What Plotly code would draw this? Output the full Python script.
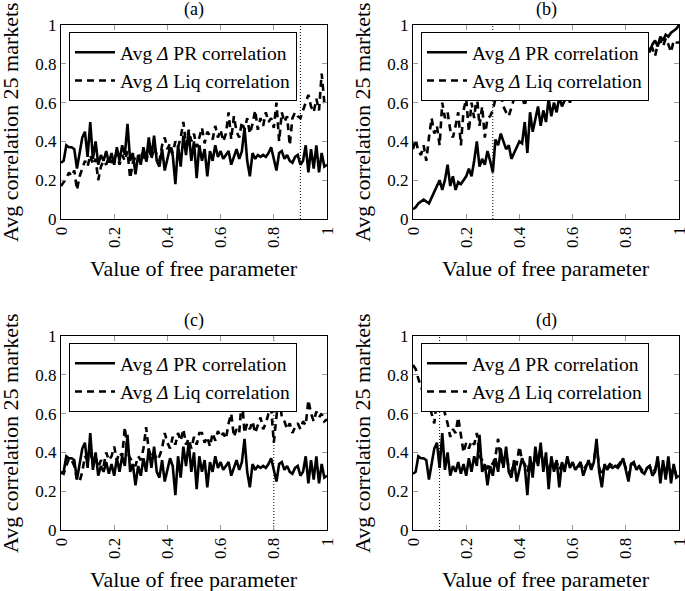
import plotly.graph_objects as go

# ---- data -------------------------------------------------------------
x_param = [round(i * 0.01, 2) for i in range(101)]

# Avg Δ PR correlation (panels a, c, d share the same realisation)
pr_acd = [0.29, 0.30, 0.38, 0.37, 0.37, 0.36, 0.26, 0.35, 0.42, 0.45,
          0.32, 0.50, 0.31, 0.40, 0.28, 0.33, 0.30, 0.35, 0.29, 0.34,
          0.28, 0.37, 0.30, 0.38, 0.33, 0.49, 0.30, 0.34, 0.23, 0.33,
          0.28, 0.37, 0.30, 0.42, 0.32, 0.43, 0.30, 0.27, 0.36, 0.25,
          0.31, 0.37, 0.33, 0.18, 0.38, 0.27, 0.43, 0.33, 0.45, 0.30,
          0.40, 0.21, 0.38, 0.30, 0.36, 0.22, 0.35, 0.30, 0.38, 0.32,
          0.35, 0.31, 0.33, 0.35, 0.28, 0.32, 0.36, 0.31, 0.35, 0.47,
          0.30, 0.22, 0.34, 0.31, 0.33, 0.32, 0.33, 0.32, 0.34, 0.37,
          0.31, 0.25, 0.34, 0.35, 0.31, 0.33, 0.30, 0.29, 0.32, 0.33,
          0.28, 0.30, 0.38, 0.24, 0.36, 0.26, 0.38, 0.24, 0.34, 0.27,
          0.28]

pr_b = [0.05, 0.06, 0.08, 0.09, 0.10, 0.09, 0.08, 0.11, 0.14, 0.17,
        0.20, 0.15, 0.20, 0.28, 0.17, 0.22, 0.15, 0.19, 0.18, 0.20,
        0.22, 0.26, 0.22, 0.30, 0.40, 0.27, 0.31, 0.28, 0.35, 0.30,
        0.24, 0.41, 0.38, 0.44, 0.40, 0.36, 0.38, 0.31, 0.34, 0.37,
        0.40, 0.39, 0.50, 0.34, 0.55, 0.45, 0.52, 0.58, 0.48, 0.56,
        0.50, 0.62, 0.53, 0.60, 0.55, 0.63, 0.58, 0.61, 0.66, 0.60,
        0.65, 0.62, 0.68, 0.64, 0.70, 0.66, 0.72, 0.67, 0.73, 0.70,
        0.75, 0.73, 0.63, 0.74, 0.79, 0.76, 0.80, 0.78, 0.82, 0.79,
        0.83, 0.80, 0.84, 0.82, 0.86, 0.83, 0.87, 0.85, 0.88, 0.86,
        0.90, 0.92, 0.89, 0.94, 0.92, 0.95, 0.94, 0.96, 0.97, 0.98,
        1.00]

# Avg Δ Liq correlation
liq_a = [0.17, 0.19, 0.21, 0.24, 0.22, 0.25, 0.15, 0.22, 0.26, 0.30,
         0.27, 0.33, 0.28, 0.31, 0.20, 0.27, 0.30, 0.28, 0.32, 0.29,
         0.31, 0.34, 0.28, 0.33, 0.30, 0.35, 0.21, 0.29, 0.32, 0.30,
         0.35, 0.33, 0.29, 0.36, 0.31, 0.37, 0.33, 0.30, 0.38, 0.42,
         0.36, 0.39, 0.34, 0.40, 0.37, 0.42, 0.50, 0.38, 0.46, 0.40,
         0.44, 0.37, 0.42, 0.47, 0.39, 0.45, 0.43, 0.41, 0.48, 0.42,
         0.46, 0.40, 0.44, 0.55, 0.41, 0.53, 0.45, 0.42, 0.50, 0.46,
         0.52, 0.44, 0.49, 0.56, 0.46, 0.52, 0.48, 0.55, 0.50, 0.52,
         0.47, 0.60, 0.40, 0.55, 0.50, 0.53, 0.38, 0.52, 0.55, 0.53,
         0.52, 0.56, 0.60, 0.64, 0.58, 0.55, 0.62, 0.56, 0.75, 0.60,
         0.58]

liq_b = [0.36, 0.41, 0.35, 0.33, 0.38, 0.30, 0.42, 0.52, 0.44, 0.48,
         0.38, 0.60, 0.52, 0.55, 0.46, 0.42, 0.48, 0.55, 0.38, 0.56,
         0.62, 0.45, 0.60, 0.52, 0.64, 0.48, 0.58, 0.42, 0.52, 0.53,
         0.56, 0.62, 0.70, 0.65, 0.58, 0.55, 0.53, 0.58, 0.62, 0.66,
         0.70, 0.64, 0.58, 0.66, 0.62, 0.70, 0.68, 0.72, 0.66, 0.70,
         0.74, 0.68, 0.72, 0.70, 0.76, 0.69, 0.74, 0.71, 0.75, 0.68,
         0.72, 0.70, 0.76, 0.72, 0.78, 0.70, 0.75, 0.74, 0.80, 0.72,
         0.78, 0.76, 0.74, 0.78, 0.80, 0.80, 0.82, 0.79, 0.84, 0.81,
         0.85, 0.82, 0.86, 0.83, 0.87, 0.85, 0.88, 0.86, 0.89, 0.88,
         0.88, 0.84, 0.90, 0.92, 0.89, 0.93, 0.90, 0.86, 0.92, 0.91,
         0.91]

liq_c = [0.30, 0.29, 0.33, 0.37, 0.36, 0.33, 0.26, 0.25, 0.30, 0.38,
         0.36, 0.40, 0.34, 0.38, 0.32, 0.36, 0.33, 0.40, 0.36, 0.38,
         0.43, 0.36, 0.40, 0.38, 0.53, 0.40, 0.37, 0.35, 0.33, 0.38,
         0.36, 0.42, 0.53, 0.41, 0.38, 0.40, 0.36, 0.38, 0.42, 0.50,
         0.45, 0.42, 0.48, 0.44, 0.50, 0.46, 0.52, 0.44, 0.47, 0.42,
         0.48, 0.44, 0.50, 0.50, 0.45, 0.48, 0.43, 0.50, 0.46, 0.51,
         0.48, 0.50, 0.47, 0.55, 0.60, 0.48, 0.52, 0.50, 0.68, 0.50,
         0.55, 0.52, 0.56, 0.50, 0.54, 0.58, 0.52, 0.55, 0.60, 0.63,
         0.45, 0.60, 0.72, 0.58, 0.56, 0.52, 0.55, 0.50, 0.53, 0.55,
         0.52, 0.56, 0.54, 0.67, 0.60, 0.56, 0.61, 0.58, 0.60, 0.56,
         0.57]

liq_d = [0.85, 0.83, 0.78, 0.74, 0.70, 0.68, 0.66, 0.60, 0.55, 0.68,
         0.66, 0.68, 0.60, 0.55, 0.48, 0.52, 0.50, 0.58, 0.48, 0.40,
         0.45, 0.42, 0.46, 0.44, 0.50, 0.38, 0.36, 0.33, 0.32, 0.35,
         0.34, 0.38, 0.47, 0.36, 0.34, 0.40, 0.32, 0.30, 0.35, 0.34,
         0.43, 0.36, 0.34, 0.30, 0.36, 0.32, 0.38, 0.34, 0.42, 0.33,
         0.36, 0.30, 0.35, 0.33, 0.35, 0.31, 0.34, 0.32, 0.36, 0.33,
         0.34, 0.33, 0.32, 0.34, 0.31, 0.33, 0.35, 0.32, 0.36, 0.44,
         0.32, 0.28, 0.33, 0.32, 0.34, 0.33, 0.34, 0.33, 0.35, 0.36,
         0.32, 0.28, 0.34, 0.34, 0.32, 0.33, 0.31, 0.30, 0.32, 0.33,
         0.30, 0.31, 0.36, 0.27, 0.35, 0.28, 0.36, 0.27, 0.33, 0.28,
         0.29]

panel_labels = ["(a)", "(b)", "(c)", "(d)"]
free_param_marks = [0.9, 0.3, 0.8, 0.1]
pr_series = [pr_acd, pr_b, pr_acd, pr_acd]
liq_series = [liq_a, liq_b, liq_c, liq_d]
x_ticks = [0, 0.2, 0.4, 0.6, 0.8, 1]
y_ticks = [0, 0.2, 0.4, 0.6, 0.8, 1]

# ---- layout geometry (pixels) ---------------------------------------
W, H = 685, 591
px_x = [(61, 327), (413, 679), (61, 327), (413, 679)]
px_y = [(25, 219), (25, 219), (336, 530), (336, 530)]

FONT = "Liberation Serif, Times New Roman, serif"
fig = go.Figure()
layout = dict(width=W, height=H,
              margin=dict(l=0, r=0, t=0, b=0, pad=0, autoexpand=False),
              paper_bgcolor="white", plot_bgcolor="white",
              font=dict(family=FONT, color="black", size=17))
annotations = []

for i in range(4):
    n = "" if i == 0 else str(i + 1)
    xa, ya = "x" + n, "y" + n
    leg = "legend" + n
    x0, x1 = px_x[i]
    y0, y1 = px_y[i]
    axis_common = dict(range=[0, 1], showgrid=False, zeroline=False,
                       showline=True, linecolor="black", linewidth=1,
                       mirror="allticks", ticks="inside", ticklen=5,
                       tickcolor="#9a9a9a", tickwidth=1, automargin=False,
                       ticklabeloverflow="allow",
                       tickfont=dict(family=FONT, size=17, color="black"))
    layout["xaxis" + n] = dict(axis_common, domain=[x0 / W, x1 / W],
                               tickvals=x_ticks, tickangle=-90,
                               anchor=ya)
    layout["yaxis" + n] = dict(axis_common, domain=[1 - y1 / H, 1 - y0 / H],
                               tickvals=y_ticks, anchor=xa)
    layout[leg] = dict(x=(x0 + 8) / W, y=1 - (y0 + 7) / H,
                       xanchor="left", yanchor="top",
                       bgcolor="white", bordercolor="black", borderwidth=1,
                       font=dict(family=FONT, size=19.5, color="black"),
                       tracegroupgap=0, itemwidth=40)

    fig.add_trace(go.Scatter(x=x_param, y=pr_series[i], mode="lines",
                             line=dict(color="black", width=2.6),
                             name="Avg <i>Δ</i> PR correlation",
                             xaxis=xa, yaxis=ya, legend=leg))
    fig.add_trace(go.Scatter(x=x_param, y=liq_series[i], mode="lines",
                             line=dict(color="black", width=2.6, dash="7px,5px"),
                             name="Avg <i>Δ</i> Liq correlation",
                             xaxis=xa, yaxis=ya, legend=leg))
    v = free_param_marks[i]
    fig.add_trace(go.Scatter(x=[v, v], y=[0, 1], mode="lines",
                             line=dict(color="black", width=1, dash="1px,2px"),
                             showlegend=False, hoverinfo="skip",
                             xaxis=xa, yaxis=ya))

    cx = (x0 + x1) / 2
    cy = (y0 + y1) / 2
    common_ann = dict(xref="paper", yref="paper", showarrow=False,
                      xanchor="center", yanchor="middle")
    annotations.append(dict(common_ann, text=panel_labels[i], x=cx / W,
                            y=1 - (y0 - 16) / H,
                            font=dict(family=FONT, size=18)))
    annotations.append(dict(common_ann, text="Value of free parameter",
                            x=cx / W, y=1 - (y1 + 49) / H,
                            font=dict(family=FONT, size=22)))
    annotations.append(dict(common_ann, text="Avg correlation 25 markets",
                            textangle=-90, x=(x0 - 51) / W, y=1 - cy / H,
                            font=dict(family=FONT, size=22)))

layout["annotations"] = annotations
fig.update_layout(**layout)
fig.write_html("out.html",
               config={"displayModeBar": False},
               post_script="document.body.style.margin='0px';"
                           "document.body.style.overflow='hidden';")
